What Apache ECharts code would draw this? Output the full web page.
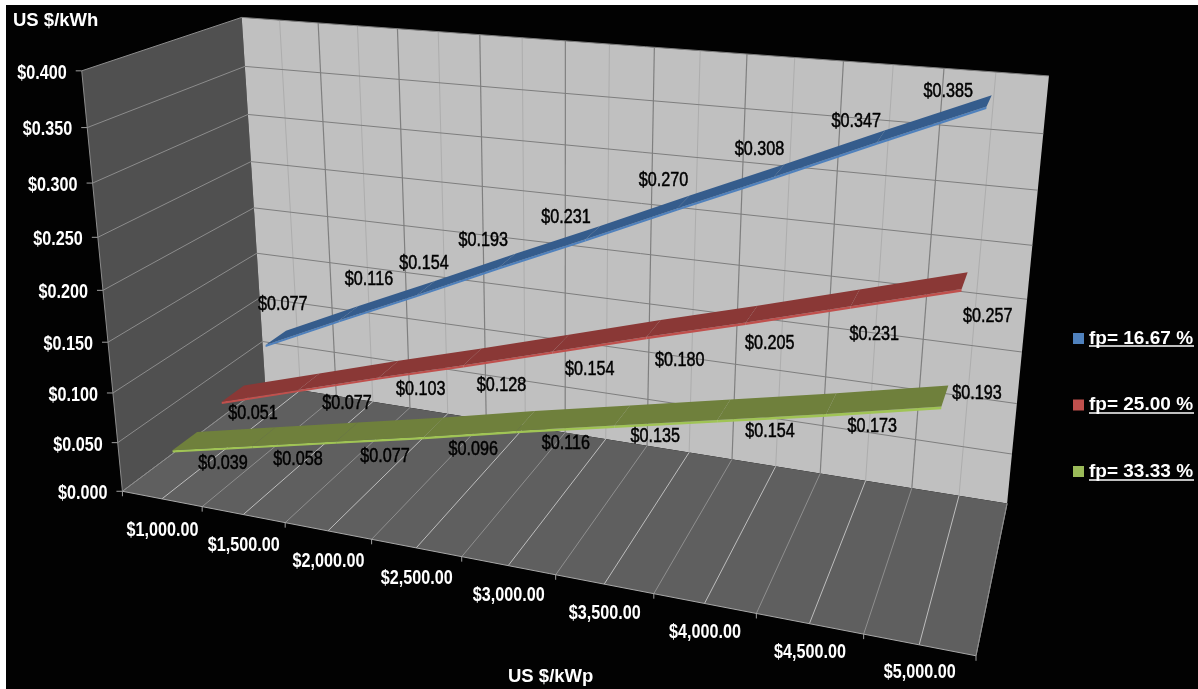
<!DOCTYPE html>
<html><head><meta charset="utf-8">
<style>html,body{margin:0;background:#fff}#c{position:absolute;left:0;top:0;width:1198px;height:689px}</style>
<script src="https://cdn.jsdelivr.net/npm/echarts@6/dist/echarts.min.js"></script>
</head><body><div id="c"></div>
<script>
const categories = ['$1,000.00','$1,500.00','$2,000.00','$2,500.00','$3,000.00','$3,500.00','$4,000.00','$4,500.00','$5,000.00'];
const valueTicks = [0,0.05,0.1,0.15,0.2,0.25,0.3,0.35,0.4];
const fp1667 = [0.077,0.116,0.154,0.193,0.231,0.270,0.308,0.347,0.385];
const fp2500 = [0.051,0.077,0.103,0.128,0.154,0.180,0.205,0.231,0.257];
const fp3333 = [0.039,0.058,0.077,0.096,0.116,0.135,0.154,0.173,0.193];

// Pixel offset of each value label from its point on the ribbon centre line.
const labelShift1667 = [[7,-33],[20,-33],[-2,-24],[-24,-20],[-27,-15],[-20,-21],[-20,-21],[-25,-14],[-41,-9]];
const labelShift2500 = [[20,20],[38,22],[32,21],[29,29],[29,27],[26,32],[18,30],[19,37],[23,36]];
const labelShift3333 = [[38,23],[34,23],[38,25],[39,23],[40,23],[33,21],[46,22],[41,23],[32,-2]];

// Box corners: [x, y, depth, screenX, screenY]
const boxCorners = [[0,0,0,122.7,492.7],[1,0,0,975.7,655],[0,0,1,265,383],[1,0,1,1007.3,504.3],[0,1,1,241.7,18.3],[1,1,1,1049,75.7],[0,1,0,81.7,70]];

// Least-squares fit of the 3x4 perspective matrix to the box corners.
function fitProjection(pts){
  const rows=[],rhs=[];
  pts.forEach(([x,y,z,sx,sy])=>{
    const u=sx/1000,v=sy/1000;
    rows.push([x,y,z,1,0,0,0,0,-u*x,-u*y,-u*z]);rhs.push(u);
    rows.push([0,0,0,0,x,y,z,1,-v*x,-v*y,-v*z]);rhs.push(v);
  });
  const n=11,A=[];
  for(let i=0;i<n;i++){A.push([]);for(let j=0;j<=n;j++){let s=0;rows.forEach((r,k)=>{s+=r[i]*(j<n?r[j]:rhs[k]);});A[i].push(s);}}
  for(let i=0;i<n;i++){
    let p=i;for(let k=i+1;k<n;k++)if(Math.abs(A[k][i])>Math.abs(A[p][i]))p=k;
    [A[i],A[p]]=[A[p],A[i]];
    for(let k=0;k<n;k++){if(k===i)continue;const f=A[k][i]/A[i][i];for(let j=i;j<=n;j++)A[k][j]-=f*A[i][j];}
  }
  return A.map((r,i)=>r[n]/r[i]);
}
const M = fitProjection(boxCorners);
function project(x,y,z){
  const w=M[8]*x+M[9]*y+M[10]*z+1;
  return [1000*(M[0]*x+M[1]*y+M[2]*z+M[3])/w,1000*(M[4]*x+M[5]*y+M[6]*z+M[7])/w];
}
// The hidden grid supplies the scales; its pixels are normalised and sent through the perspective.
function unit(api,params,cat,val){
  const p=api.coord([cat,val]),g=params.coordSys;
  return [(p[0]-g.x)/g.width,1-(p[1]-g.y)/g.height];
}
const poly=(pts,fill)=>({type:'polygon',shape:{points:pts},style:{fill:fill}});
const seg=(a,b,stroke,w)=>({type:'line',shape:{x1:a[0],y1:a[1],x2:b[0],y2:b[1]},style:{stroke:stroke,lineWidth:w||1,fill:null}});
const label=(str,p,font,fill,align,weight)=>({type:'text',x:p[0],y:p[1],scaleX:0.83,style:{text:str,font:font,fill:fill,align:align||'center',verticalAlign:'middle',stroke:weight?fill:null,lineWidth:weight||0}});

const AXIS_FONT='bold 19.5px "Liberation Sans", Arial, sans-serif';
const DATA_FONT='19.5px "Liberation Sans", Arial, sans-serif';

function renderFrame(params,api){
  const ch=[];
  const P=(c,v,z)=>{const u=unit(api,params,c,v);return project(u[0],u[1],z);};
  const cMin=-0.5,cMax=8.5,vMax=valueTicks[valueTicks.length-1];
  ch.push(poly([P(cMin,0,0),P(cMin,vMax,0),P(cMin,vMax,1),P(cMin,0,1)],'#505050'));
  ch.push(poly([P(cMin,0,1),P(cMin,vMax,1),P(cMax,vMax,1),P(cMax,0,1)],'#c0c0c0'));
  ch.push(poly([P(cMin,0,0),P(cMax,0,0),P(cMax,0,1),P(cMin,0,1)],'#5f5f5f'));
  for(let h=0;h<=18;h++){
    const c=cMin+h/2,major=h%2===0;
    if(h>0&&h<18) ch.push(seg(P(c,0,1),P(c,vMax,1),major?'#7f7f7f':'#adadad',major?1.2:1));
    ch.push(seg(P(c,0,0),P(c,0,1),major?'#8f8f8f':'#bdbdbd',1));
    if(major){const f=P(c,0,0);ch.push(seg(f,[f[0],f[1]+5],'#a0a0a0',1));}
  }
  valueTicks.forEach(v=>{
    if(v>0) ch.push(seg(P(cMax,v,1),P(cMin,v,1),'#7e7e7e',1));
    ch.push(seg(P(cMin,v,1),P(cMin,v,0),'#8c8c8c',1));
    const f=P(cMin,v,0);
    ch.push(seg(f,[f[0]-6,f[1]],'#a0a0a0',1));
    ch.push(label('$'+v.toFixed(3),[f[0]-15,f[1]+2.5],AXIS_FONT,'#ffffff','right'));
  });
  ch.push(seg(P(cMin,0,0),P(cMax,0,0),'#a8a8a8',1));
  ch.push(seg(P(cMin,0,0),P(cMin,vMax,0),'#8c8c8c',1));
  ch.push(seg(P(cMax,0,0),P(cMax,0,1),'#8c8c8c',1));
  categories.forEach((name,i)=>{
    const f=P(i,0,0);
    ch.push(label(name,[f[0]+0.5,f[1]+28+(8-i)*0.45],AXIS_FONT,'#ffffff'));
  });
  return {type:'group',children:ch};
}

// One ribbon segment per value: a flat top face plus a thin lit front edge.
function ribbon(values,depth,top,face,shifts){
  const half=0.08,drop=0.0022;
  return function(params,api){
    const i=api.value(0),v=api.value(1),ch=[];
    const P=(c,val,z)=>{const u=unit(api,params,c,val);return project(u[0],u[1],z);};
    if(i<values.length-1){
      const n=values[i+1],z0=depth-half,z1=depth+half;
      ch.push(poly([P(i,v-drop,z0),P(i+1,n-drop,z0),P(i+1,n,z0),P(i,v,z0)],face));
      ch.push(poly([P(i,v,z0),P(i+1,n,z0),P(i+1,n,z1),P(i,v,z1)],top));
    }
    const a=P(i,v,depth),s=shifts[i];
    ch.push(label('$'+v.toFixed(3),[a[0]+s[0],a[1]+s[1]],DATA_FONT,'#000000','center',0.5));
    return {type:'group',children:ch};
  };
}
const rows=a=>a.map((v,i)=>[i,v]);
const chart=echarts.init(document.getElementById('c'),null,{renderer:'canvas'});
chart.setOption({
  animation:false,backgroundColor:'#ffffff',
  grid:{left:0,right:0,top:0,bottom:0,show:false},
  xAxis:{type:'value',min:-0.5,max:8.5,show:false},
  yAxis:{type:'value',min:0,max:0.4,show:false},
  legend:{orient:'vertical',left:1068,top:324,itemWidth:11,itemHeight:11,itemGap:47.5,selectedMode:false,icon:'rect',
    data:['fp= 16.67 %','fp= 25.00 %','fp= 33.33 %'],
    textStyle:{color:'#ffffff',fontWeight:'bold',fontSize:19,fontFamily:'"Liberation Sans", Arial, sans-serif'}},
  graphic:[
    {type:'rect',z:-10,shape:{x:6,y:5,width:1192,height:684},style:{fill:'#020202'}},
    {type:'text',x:13,y:21,style:{text:'US $/kWh',font:'bold 18.5px "Liberation Sans", Arial, sans-serif',fill:'#fff',verticalAlign:'middle'}},
    {type:'text',x:508,y:677,style:{text:'US $/kWp',font:'bold 18.5px "Liberation Sans", Arial, sans-serif',fill:'#fff',verticalAlign:'middle'}},
    {type:'line',shape:{x1:1089,y1:346,x2:1194,y2:346},style:{stroke:'#fff',lineWidth:1.5}},
    {type:'line',shape:{x1:1089,y1:413,x2:1194,y2:413},style:{stroke:'#fff',lineWidth:1.5}},
    {type:'line',shape:{x1:1089,y1:480,x2:1194,y2:480},style:{stroke:'#fff',lineWidth:1.5}}
  ],
  series:[
    {type:'custom',name:'frame',silent:true,z:1,data:[[0,0]],renderItem:renderFrame},
    {type:'custom',name:'fp= 16.67 %',silent:true,z:2,itemStyle:{color:'#4f81bd'},data:rows(fp1667),renderItem:ribbon(fp1667,0.833,'#355c8c','#4f81bd',labelShift1667)},
    {type:'custom',name:'fp= 25.00 %',silent:true,z:3,itemStyle:{color:'#c0504d'},data:rows(fp2500),renderItem:ribbon(fp2500,0.5,'#8a3836','#c0504d',labelShift2500)},
    {type:'custom',name:'fp= 33.33 %',silent:true,z:4,itemStyle:{color:'#9bbb59'},data:rows(fp3333),renderItem:ribbon(fp3333,0.167,'#6f803c','#a0c455',labelShift3333)}
  ]
});
</script></body></html>
